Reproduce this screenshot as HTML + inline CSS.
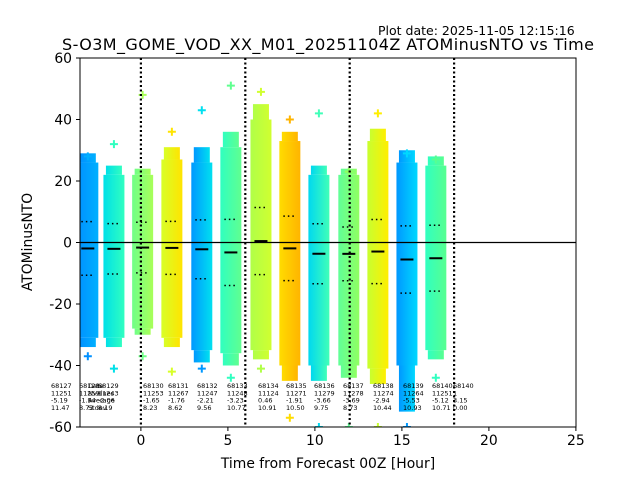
<!DOCTYPE html>
<html><head><meta charset="utf-8"><style>
body{margin:0;background:#fff}
svg{display:block;font-family:"DejaVu Sans","Liberation Sans",sans-serif}
</style></head><body>
<svg id="chart" width="640" height="480" viewBox="0 0 640 480">
<defs id="defs"></defs>
<text x="378" y="35" font-size="12.5">Plot date: 2025-11-05 12:15:16</text>
<text x="328" y="50" font-size="16" text-anchor="middle" textLength="532">S-O3M_GOME_VOD_XX_M01_20251104Z ATOMinusNTO vs Time</text>
<g id="plot"></g>
<text x="328" y="468" font-size="13.9" text-anchor="middle">Time from Forecast 00Z [Hour]</text>
<text transform="translate(32,242) rotate(-90)" font-size="13.9" text-anchor="middle">ATOMinusNTO</text>
</svg>
<script>
const hours=[-3.05,-1.55,0.1,1.78,3.5,5.17,6.9,8.56,10.23,11.95,13.62,15.29,16.95];
const means=[-1.94,-2.06,-1.65,-1.76,-2.21,-3.23,0.46,-1.91,-3.66,-3.69,-2.94,-5.53,-5.12];
const stds=[8.73,8.19,8.23,8.62,9.56,10.77,10.91,10.50,9.75,8.73,10.44,10.93,10.71];
const coreMax=[26,22,22,27,26,31,40,33,22,22,33,26,25];
const coreMin=[-31,-31,-28,-31,-35,-36,-35,-40,-40,-40,-41,-40,-35];
const tipMax=[29,25,24,31,31,36,45,36,25,24,37,30,28];
const tipMin=[-34,-34,-30,-34,-39,-40,-38,-45,-45,-44,-46,-55,-38];
const outMax=[28,32,48,36,43,51,49,40,42,23,42,29,27];
const outMin=[-37,-41,-37,-42,-41,-44,-41,-57,-60,-60,-60,-60,-44];
const colL=["#0090ff","#00e0e8","#70ff88","#d8ff28","#0098ff","#30ffc0","#b0ff48","#ffdc00","#00d8f0","#60ff98","#c8ff30","#0098ff","#30ffc0"];
const colR=["#00b0ff","#30ffc0","#a8ff58","#ffe400","#00e0f0","#60ff90","#d0ff30","#ffb400","#40ffb8","#90ff60","#ffee00","#00d8ff","#58ff90"];
const vlines=[0,6,12,18];
const xTicks=[0,5,10,15,20,25];
const yTicks=[60,40,20,0,-20,-40,-60];
const statCols=[["68127","11251","-5.19","11.47"],["68128","11259","-1.94","8.73"],["Date","Nvalues","Average","Stdev"],["68129","11243","-2.06","8.19"],["68130","11253","-1.65","8.23"],["68131","11267","-1.76","8.62"],["68132","11247","-2.21","9.56"],["68133","11248","-3.23","10.77"],["68134","11124","0.46","10.91"],["68135","11271","-1.91","10.50"],["68136","11279","-3.66","9.75"],["68137","11278","-3.69","8.73"],["68138","11274","-2.94","10.44"],["68139","11264","-5.53","10.93"],["68140","11251","-5.12","10.71"],["68140","1","3.15","0.00"]];
const statX=[51,79,88,98,143,168,197,227,258,286,314,343,373,403,432,453];
const NS="http://www.w3.org/2000/svg";
const X=h=>80+(h+3.5)*17.4, Y=v=>242.5-v*3.075;
const plot=document.getElementById('plot'), defs=document.getElementById('defs');
function mk(t,a,p){const e=document.createElementNS(NS,t);for(const k in a)e.setAttribute(k,a[k]);(p||plot).appendChild(e);return e;}
const cp=mk('clipPath',{id:'clip'},defs);mk('rect',{x:80,y:58,width:496,height:369},cp);
const g=mk('g',{'clip-path':'url(#clip)'});
hours.forEach((h,i)=>{
  const gr=mk('linearGradient',{id:'g'+i,x1:0,x2:1,y1:0,y2:0},defs);
  mk('stop',{offset:0,'stop-color':colL[i]},gr);mk('stop',{offset:1,'stop-color':colR[i]},gr);
  const cx=X(h);
  const cg=mk('g',{},g);
  
  
  mk('rect',{x:cx-10.5,y:Y(coreMax[i]),width:21,height:Y(coreMin[i])-Y(coreMax[i]),fill:'url(#g'+i+')'},cg);
  mk('rect',{x:cx-8,y:Y(tipMax[i]),width:16,height:Y(coreMax[i])-Y(tipMax[i]),fill:'url(#g'+i+')'},cg);
  mk('rect',{x:cx-8,y:Y(coreMin[i]),width:16,height:Y(tipMin[i])-Y(coreMin[i]),fill:'url(#g'+i+')'},cg);
  [[outMax[i],colR[i]],[outMin[i],colL[i]]].forEach(([v,c])=>{
    const p=mk('path',{d:`M${cx-4} ${Y(v)}h8M${cx} ${Y(v)-4}v8`,stroke:c,'stroke-width':2},cg);
    
  });
});
const z=mk('line',{x1:80,x2:576,y1:Y(0),y2:Y(0),stroke:'#000','stroke-width':1.2});

vlines.forEach(h=>{const l=mk('line',{x1:X(h),x2:X(h),y1:58,y2:427,stroke:'#000','stroke-width':2.2,'stroke-dasharray':'2,2.5'});
});
hours.forEach((h,i)=>{const cx=X(h);
  const m=mk('line',{x1:cx-6.5,x2:cx+6.5,y1:Y(means[i]),y2:Y(means[i]),stroke:'#000','stroke-width':2});
  
  [means[i]+stds[i],means[i]-stds[i]].forEach(v=>{const s=mk('line',{x1:cx-6.5,x2:cx+6.5,y1:Y(v),y2:Y(v),stroke:'#000','stroke-width':1.5,'stroke-dasharray':'1.5,3'});
  });
});
statCols.forEach((c,i)=>{c.forEach((t,j)=>{const e=mk('text',{x:statX[i],y:388+j*7.3,'font-size':6.5});e.textContent=t;
 });});
const fr=mk('rect',{x:80,y:58,width:496,height:369,fill:'none',stroke:'#000','stroke-width':1});

xTicks.forEach(t=>{mk('line',{x1:X(t),x2:X(t),y1:427,y2:431,stroke:'#000'});
 const e=mk('text',{x:X(t),y:445,'font-size':13.9,'text-anchor':'middle'});e.textContent=t;
 });
yTicks.forEach(t=>{mk('line',{x1:76,x2:80,y1:Y(t),y2:Y(t),stroke:'#000'});
 const e=mk('text',{x:72,y:Y(t)+5,'font-size':13.9,'text-anchor':'end'});e.textContent=t;
 });
</script>
</body></html>
